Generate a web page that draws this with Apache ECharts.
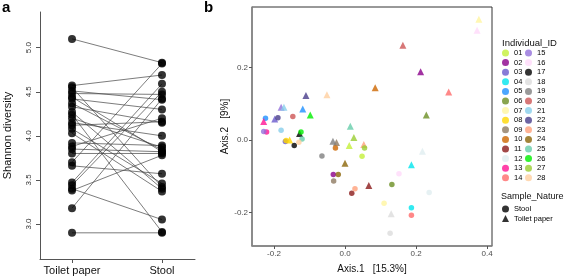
<!DOCTYPE html>
<html>
<head>
<meta charset="utf-8">
<script src="https://cdn.jsdelivr.net/npm/echarts@6/dist/echarts.min.js"></script>
<style>
  html, body { margin: 0; padding: 0; background: #fff; }
  #chart { width: 567px; height: 279px; }
</style>
</head>
<body>
<div id="chart"></div>
<script>
// panel a: paired Shannon diversity (toilet paper -> stool)
const groups = ['Toilet paper', 'Stool'];
const tpShannon = [5.10, 4.57, 4.55, 4.51, 4.48, 4.44, 4.42, 4.37, 4.33, 4.27, 4.24, 4.20, 4.15, 4.12,
                   4.08, 4.03, 3.92, 3.88, 3.85, 3.80, 3.70, 3.66, 3.47, 3.44, 3.40, 3.38, 3.18, 2.90];
const stoolShannon = [4.83, 4.69, 3.42, 4.41, 4.47, 3.82, 4.30, 3.84, 4.15, 3.40, 2.91, 3.87, 4.00, 4.16,
                      3.46, 3.37, 3.89, 4.20, 3.82, 3.80, 4.82, 3.57, 4.59, 4.50, 3.05, 3.78, 4.42, 2.90];
const shannonTicks = [3.0, 3.5, 4.0, 4.5, 5.0];

// panel b: PCoA coordinates per individual
const individuals = ['01','02','03','04','05','06','07','08','09','10','11','12','13','14',
                     '15','16','17','18','19','20','21','22','23','24','25','26','27','28'];
const indColors = ['#C4F03A','#8B008B','#6A5ACD','#00E5EE','#1E90FF','#6B8E23','#FFF5A0','#FFD700',
                   '#8F7A62','#CD6600','#8B1A1A','#E0EEF0','#FF1493','#FF6A6A','#9370DB','#FFD9FA',
                   '#000000','#DCDCDC','#808080','#CD5555','#87CEEB','#483D8B','#FFA07A','#8B6508',
                   '#66CDAA','#00EE00','#9ACD32','#FFD0A0'];
const tpAxis1 = [0.012, 0.213, -0.198, 0.187, -0.119, 0.229, 0.377, -0.156, -0.024, 0.085, 0.067, 0.218, -0.229, 0.292,
                 -0.180, 0.372, -0.128, 0.130, -0.034, 0.163, -0.172, -0.110, 0.053, 0.000, 0.015, -0.098, 0.025, -0.051];
const tpAxis2 = [-0.015, 0.189, 0.058, -0.068, 0.086, 0.069, 0.334, 0.000, -0.007, 0.145, -0.126, -0.031, 0.051, 0.133,
                 0.091, 0.304, 0.018, -0.204, -0.003, 0.262, 0.091, 0.123, -0.012, -0.064, 0.038, 0.069, 0.007, 0.125];
const stAxis1 = [0.048, -0.033, -0.168, 0.187, -0.224, 0.132, 0.110, -0.166, -0.032, -0.027, 0.019, 0.237, -0.221, 0.187,
                 -0.229, 0.152, -0.143, 0.127, -0.065, -0.147, -0.180, -0.189, 0.028, -0.019, -0.121, -0.124, 0.055, -0.130];
const stAxis2 = [-0.045, -0.095, -0.004, -0.187, 0.060, -0.123, -0.175, -0.001, -0.113, -0.022, -0.147, -0.145, 0.022, -0.208,
                 0.024, -0.093, -0.015, -0.258, -0.044, 0.065, 0.027, 0.062, -0.135, -0.095, 0.003, 0.022, -0.022, -0.006];
const axis1Ticks = [-0.2, 0.0, 0.2, 0.4];
const axis2Ticks = [-0.2, 0.0, 0.2];

const chart = echarts.init(document.getElementById('chart'));
const font = 'Liberation Sans, Arial, sans-serif';

const series = [];

// pair lines
tpShannon.forEach((v, i) => {
  series.push({
    name: 'pair' + i,
    type: 'line',
    xAxisIndex: 0, yAxisIndex: 0,
    data: [[1, v], [2, stoolShannon[i]]],
    symbol: 'none',
    lineStyle: { color: '#444', width: 0.7 },
    silent: true,
    z: 2
  });
});
series.push({
  name: 'shannonPoints',
  type: 'scatter',
  xAxisIndex: 0, yAxisIndex: 0,
  data: tpShannon.map(v => [1, v]).concat(stoolShannon.map(v => [2, v])),
  symbolSize: 8,
  itemStyle: { color: '#000' },
  z: 3
});

// PCoA points, one series per individual
individuals.forEach((id, i) => {
  series.push({
    name: id,
    type: 'scatter',
    xAxisIndex: 1, yAxisIndex: 1,
    symbol: 'circle',
    symbolSize: 5.5,
    itemStyle: { color: indColors[i] },
    data: [
      { value: [stAxis1[i], stAxis2[i]] },
      { value: [tpAxis1[i], tpAxis2[i]], symbol: 'triangle', symbolSize: 7 }
    ],
    z: 3
  });
});
// shape legend dummies
series.push({ name: 'Stool', type: 'scatter', xAxisIndex: 1, yAxisIndex: 1, symbol: 'circle', itemStyle: { color: '#000' }, data: [] });
series.push({ name: 'Toilet paper', type: 'scatter', xAxisIndex: 1, yAxisIndex: 1, symbol: 'triangle', itemStyle: { color: '#000' }, data: [] });

const legendText = { fontFamily: font, fontSize: 7.5, lineHeight: 8, color: '#000' };
const legendBase = {
  orient: 'vertical', itemWidth: 7, itemHeight: 7, itemGap: 1.6, padding: 0,
  selectedMode: false, textStyle: legendText
};

const option = {
  animation: false,
  textStyle: { fontFamily: font },
  grid: [
    { left: 40, top: 12, width: 155, height: 247, containLabel: false },
    { left: 252, top: 7, width: 240, height: 248, show: true, borderColor: '#333', borderWidth: 1, containLabel: false }
  ],
  xAxis: [
    {
      gridIndex: 0, type: 'value', min: 0.644, max: 2.367,
      axisLine: { show: true, onZero: false, lineStyle: { color: '#555', width: 1 } },
      axisTick: { show: true, length: 4, customValues: [1, 2], lineStyle: { color: '#555' } },
      axisLabel: { customValues: [1, 2], formatter: v => groups[Math.round(v) - 1], fontSize: 11, color: '#111', margin: 6 },
      splitLine: { show: false }
    },
    {
      gridIndex: 1, type: 'value', min: -0.262, max: 0.414,
      name: 'Axis.1   [15.3%]', nameLocation: 'middle', nameGap: 18,
      nameTextStyle: { fontSize: 10, color: '#111' },
      axisLine: { show: true, onZero: false, lineStyle: { color: '#888', width: 1.5 } },
      axisTick: { show: true, length: 3, customValues: axis1Ticks, lineStyle: { color: '#555' } },
      axisLabel: { customValues: axis1Ticks, formatter: v => v.toFixed(1), fontSize: 8, color: '#4d4d4d', margin: 4 },
      splitLine: { show: false }
    }
  ],
  yAxis: [
    {
      gridIndex: 0, type: 'value', min: 2.603, max: 5.405,
      name: 'Shannon diversity', nameLocation: 'middle', nameGap: 27, nameRotate: 90,
      nameTextStyle: { fontSize: 11, color: '#111' },
      axisLine: { show: true, onZero: false, lineStyle: { color: '#555', width: 1 } },
      axisTick: { show: true, length: 4, customValues: shannonTicks, lineStyle: { color: '#555' } },
      axisLabel: { customValues: shannonTicks, formatter: v => v.toFixed(1), rotate: 90, fontSize: 8, color: '#333', margin: 7 },
      splitLine: { show: false }
    },
    {
      gridIndex: 1, type: 'value', min: -0.293, max: 0.368,
      name: 'Axis.2   [9%]', nameLocation: 'middle', nameGap: 22, nameRotate: 90,
      nameTextStyle: { fontSize: 10, color: '#111' },
      axisLine: { show: true, onZero: false, lineStyle: { color: '#888', width: 1.5 } },
      axisTick: { show: true, length: 3, customValues: axis2Ticks, lineStyle: { color: '#555' } },
      axisLabel: { customValues: axis2Ticks, formatter: v => v.toFixed(1), fontSize: 8, color: '#4d4d4d', margin: 4 },
      splitLine: { show: false }
    }
  ],
  legend: [
    Object.assign({ data: individuals.slice(0, 14), left: 502, top: 49 }, legendBase),
    Object.assign({ data: individuals.slice(14), left: 525, top: 49 }, legendBase),
    Object.assign({ data: ['Stool', 'Toilet paper'], left: 502, top: 205 }, legendBase)
  ],
  graphic: [
    { type: 'text', left: 2, top: 0, style: { text: 'a', fontSize: 15, fontWeight: 'bold', fontFamily: font, fill: '#000' } },
    { type: 'text', left: 204, top: 0, style: { text: 'b', fontSize: 15, fontWeight: 'bold', fontFamily: font, fill: '#000' } },
    { type: 'text', left: 502, top: 38, style: { text: 'Individual_ID', fontSize: 9.5, fontFamily: font, fill: '#111' } },
    { type: 'text', left: 501, top: 192, style: { text: 'Sample_Nature', fontSize: 9, fontFamily: font, fill: '#111' } }
  ],
  series: series
};

chart.setOption(option);
</script>
</body>
</html>
